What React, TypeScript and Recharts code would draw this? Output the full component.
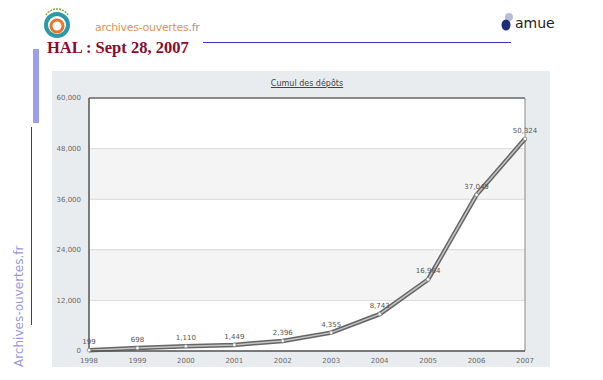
import { LineChart, Line, XAxis, YAxis, CartesianGrid, ReferenceArea, ReferenceLine, LabelList } from 'recharts';

const years = ['1998', '1999', '2000', '2001', '2002', '2003', '2004', '2005', '2006', '2007'];
const deposits = [199, 698, 1110, 1449, 2396, 4355, 8743, 16964, 37049, 50324];
const yTicks = [0, 12000, 24000, 36000, 48000, 60000];

const data = years.map((y, i) => ({ year: y, total: deposits[i] }));

const fmt = (v: number) => v.toLocaleString('en-US');

const tickStyle = { fill: '#6a6a6a', fontSize: 7, fontFamily: 'DejaVu Sans' };

function HeaderLogo() {
  return (
    <svg width={30} height={34} style={{ position: 'absolute', left: 42, top: 6 }}>
      <circle cx={15} cy={19} r={11} fill="none" stroke="#2a9aa8" strokeWidth={4} />
      <circle cx={15} cy={20} r={6} fill="none" stroke="#e8742a" strokeWidth={3} />
      <path d="M4 9 A13 13 0 0 1 26 9" fill="none" stroke="#8aa840" strokeWidth={1.5} strokeDasharray="2 1" />
    </svg>
  );
}

export default function App() {
  return (
    <div style={{ position: 'absolute', left: 0, top: 0, width: 603, height: 380, background: '#fff', overflow: 'hidden' }}>
      <HeaderLogo />
      <div style={{ position: 'absolute', left: 95, top: 21, fontFamily: 'DejaVu Sans', fontSize: 11, color: '#e09460', letterSpacing: -0.3 }}>
        archives-ouvertes<span style={{ color: '#999' }}>.fr</span>
      </div>
      <div style={{ position: 'absolute', left: 47, top: 38, fontFamily: 'Liberation Serif', fontWeight: 'bold', fontSize: 16.5, color: '#8b0a2e', whiteSpace: 'nowrap' }}>
        HAL : Sept 28, 2007
      </div>
      <div style={{ position: 'absolute', left: 203, top: 42, width: 308, height: 1, background: '#3838c8' }} />
      <svg width={14} height={20} style={{ position: 'absolute', left: 500, top: 12 }}>
        <circle cx={9} cy={5} r={4} fill="#b8bcd8" />
        <ellipse cx={6} cy={13} rx={4.5} ry={5.5} fill="#1c2e7a" />
      </svg>
      <div style={{ position: 'absolute', left: 515, top: 15, fontFamily: 'DejaVu Sans', fontSize: 14, color: '#222' }}>amue</div>
      <div style={{ position: 'absolute', left: 33, top: 49, width: 6, height: 74, background: '#9c9cf0' }} />
      <div style={{ position: 'absolute', left: 31, top: 127, width: 1, height: 198, background: '#3434a8' }} />
      <div
        style={{
          position: 'absolute', left: 19, top: 367, transform: 'rotate(-90deg)', transformOrigin: '0 0',
          fontFamily: 'DejaVu Sans', fontSize: 12, color: '#9a9ae0', whiteSpace: 'nowrap', marginLeft: -7,
        }}
      >
        Archives-ouvertes.fr
      </div>

      <div style={{ position: 'absolute', left: 52, top: 71, width: 498, height: 296, background: '#e8ecef' }}>
        <div style={{ position: 'absolute', left: 37, width: 436, top: 8, textAlign: 'center', fontFamily: 'DejaVu Sans', fontSize: 8, color: '#444', textDecoration: 'underline' }}>
          Cumul des dépôts
        </div>
        <LineChart width={498} height={296} data={data} margin={{ top: 27, right: 25, left: 0, bottom: 0 }}>
          <CartesianGrid vertical={false} fill="#ffffff" stroke="#dcdcdc" />
          <ReferenceArea y1={36000} y2={48000} fill="#f4f4f4" fillOpacity={1} stroke="none" />
          <ReferenceArea y1={12000} y2={24000} fill="#f4f4f4" fillOpacity={1} stroke="none" />
          {yTicks.slice(1, 5).map(t => (
            <ReferenceLine key={t} y={t} stroke="#dddddd" />
          ))}
          <ReferenceLine y={60000} stroke="#6a6a6a" strokeWidth={1.5} />
          <ReferenceLine x="2007" stroke="#8a8a8a" />
          <XAxis
            dataKey="year"
            padding={{ left: 0, right: 0 }}
            height={16}
            tick={tickStyle}
            tickLine={false}
            axisLine={{ stroke: '#555', strokeWidth: 1.5 }}
            interval={0}
            tickMargin={1}
          />
          <YAxis
            width={37}
            domain={[0, 60000]}
            ticks={yTicks}
            tickFormatter={fmt}
            tick={tickStyle}
            tickLine={false}
            axisLine={{ stroke: '#555', strokeWidth: 1.5 }}
            tickMargin={2}
          />
          <Line dataKey="total" stroke="#666666" strokeWidth={4.5} dot={false} isAnimationActive={false} />
          <Line
            dataKey="total"
            stroke="#c4c4c4"
            strokeWidth={1.5}
            dot={{ r: 1.8, fill: '#fff', stroke: '#888', strokeWidth: 0.8 }}
            isAnimationActive={false}
          >
            <LabelList dataKey="total" position="top" offset={6} formatter={(v: any) => fmt(Number(v))} style={{ fill: '#555', fontSize: 7, fontFamily: 'DejaVu Sans' }} />
          </Line>
        </LineChart>
      </div>
    </div>
  );
}
